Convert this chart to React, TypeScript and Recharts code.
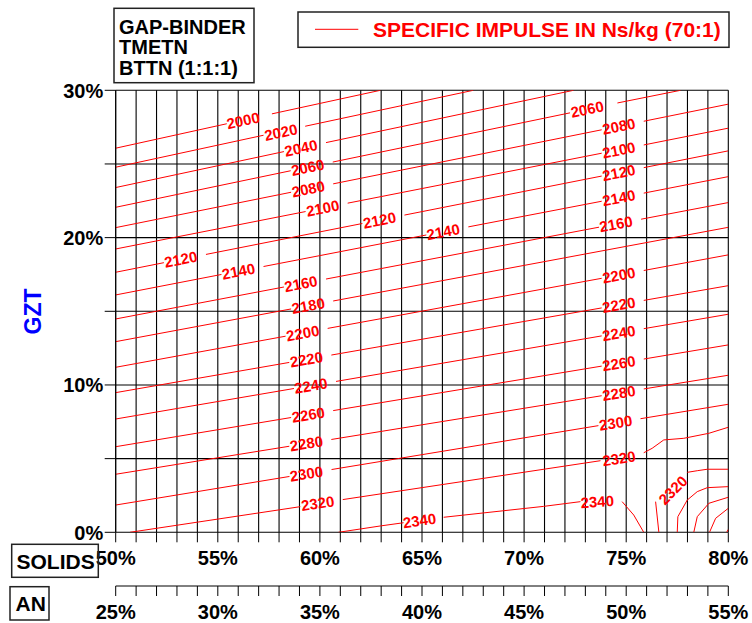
import React from 'react';
import { ComposedChart, Line, XAxis, YAxis, CartesianGrid, Scatter } from 'recharts';

type Seg = number[][];

// x axis: SOLIDS %, second axis: AN %
const solidsTicks = [50, 51, 52, 53, 54, 55, 56, 57, 58, 59, 60, 61, 62, 63, 64, 65, 66, 67, 68, 69, 70, 71, 72, 73, 74, 75, 76, 77, 78, 79, 80];
const anTicks = [25, 26, 27, 28, 29, 30, 31, 32, 33, 34, 35, 36, 37, 38, 39, 40, 41, 42, 43, 44, 45, 46, 47, 48, 49, 50, 51, 52, 53, 54, 55];
const anRange = [{ a: 25 }, { a: 55 }];
const gztTicks = [0, 5, 10, 15, 20, 25, 30];

// contour lines of specific impulse (Ns/kg): visible segments, points [solids %, GZT %]
const c2000: Seg[] = [[[50, 26.07], [55.44, 27.73]], [[57.65, 28.4], [62.96, 30]]];
const c2020: Seg[] = [[[50, 24.78], [57.24, 26.95]], [[59.28, 27.56], [67.51, 30]]];
const c2040: Seg[] = [[[50, 23.4], [58.24, 25.84]], [[60.3, 26.45], [72.42, 30]]];
const c2060: Seg[] = [[[50, 22.06], [58.57, 24.54]], [[60.63, 25.13], [72.25, 28.47]], [[74.57, 29.14], [77.66, 30]]];
const c2080: Seg[] = [[[50, 20.68], [58.59, 23.08]], [[60.65, 23.65], [73.8, 27.32]], [[75.86, 27.9], [80, 29.06]]];
const c2100: Seg[] = [[[50, 19.23], [59.3, 21.77]], [[61.36, 22.34], [73.8, 25.73]], [[75.86, 26.29], [80, 27.43]]];
const c2120: Seg[] = [[[50, 17.65], [52.36, 18.3]], [[54.42, 18.86], [62.08, 20.96]], [[64.14, 21.53], [73.8, 24.18]], [[75.86, 24.75], [80, 25.89]]];
const c2140: Seg[] = [[[50, 16.11], [55.18, 17.5]], [[57.24, 18.04], [65.21, 20.18]], [[67.27, 20.73], [73.8, 22.47]], [[75.86, 23.02], [80, 24.14]]];
const c2160: Seg[] = [[[50, 14.48], [58.24, 16.65]], [[60.3, 17.19], [73.67, 20.71]], [[75.73, 21.25], [80, 22.38]]];
const c2180: Seg[] = [[[50, 12.94], [58.59, 15.16]], [[60.65, 15.7], [80, 20.7]]];
const c2200: Seg[] = [[[50, 11.2], [58.32, 13.31]], [[60.38, 13.84], [73.8, 17.24]], [[75.86, 17.77], [80, 18.83]]];
const c2220: Seg[] = [[[50, 9.48], [58.5, 11.53]], [[60.56, 12.03], [73.8, 15.23]], [[75.86, 15.74], [80, 16.74]]];
const c2240: Seg[] = [[[50, 7.69], [58.73, 9.76]], [[60.79, 10.24], [73.8, 13.33]], [[75.86, 13.82], [80, 14.8]]];
const c2260: Seg[] = [[[50, 5.81], [58.59, 7.79]], [[60.65, 8.26], [73.8, 11.28]], [[75.86, 11.76], [80, 12.72]]];
const c2280: Seg[] = [[[50, 3.94], [58.5, 5.84]], [[60.56, 6.3], [73.8, 9.27]], [[75.86, 9.73], [80, 10.66]]];
const c2300: Seg[] = [[[50, 1.85], [58.51, 3.79]], [[60.57, 4.26], [73.64, 7.24]], [[75.7, 7.71], [80, 8.69]]];
const c2320a: Seg[] = [[[50.7, 0], [59.04, 1.74]], [[61.12, 2.22], [73.74, 4.86]], [[75.86, 5.4], [76.27, 5.7], [76.84, 6.27], [77.82, 6.38], [79.05, 6.72], [80, 7.13]]];
const c2340: Seg[] = [[[60.91, 0], [62.96, 0.43], [64.1, 0.65]], [[66.06, 1.02], [70.96, 1.76], [72.76, 2.08]], [[74.8, 2.08], [75.37, 1.17], [75.86, 0]]];
const c2320b: Seg[] = [[[76.6, 0], [76.44, 2.08]], [[77.99, 4.07], [78.48, 4.18], [78.97, 4.28], [80, 4.28]]];
const c2300b: Seg[] = [[[77.5, 0], [77.53, 1.06], [77.99, 2.19], [78.48, 2.76], [78.97, 3.03], [80, 3.1]]];
const c2280b: Seg[] = [[[78.31, 0], [78.48, 1.06], [79.05, 1.97], [80, 2.38]]];
const c2260b: Seg[] = [[[79.08, 0], [79.38, 0.95], [80, 1.63]]];
const c2240b: Seg[] = [[[79.92, 0], [80, 0.2]]];

const contours: Seg[][] = [c2000, c2020, c2040, c2060, c2080, c2100, c2120, c2140, c2160, c2180, c2200, c2220, c2240, c2260, c2280, c2300, c2320a, c2340, c2320b, c2300b, c2280b, c2260b, c2240b];

// contour labels: text, solids %, GZT %, angle
const contourLabels = [
  { t: '2000', s: 56.24, g: 27.95, a: -12.4 },
  { t: '2020', s: 58.09, g: 27.15, a: -12.2 },
  { t: '2040', s: 59.07, g: 26.08, a: -12.1 },
  { t: '2060', s: 59.4, g: 24.77, a: -11.7 },
  { t: '2060', s: 73.09, g: 28.72, a: -11.7 },
  { t: '2080', s: 59.43, g: 23.31, a: -11.4 },
  { t: '2080', s: 74.64, g: 27.56, a: -11.4 },
  { t: '2100', s: 60.14, g: 22.0, a: -11.2 },
  { t: '2100', s: 74.64, g: 25.95, a: -11.2 },
  { t: '2120', s: 53.19, g: 18.53, a: -11.2 },
  { t: '2120', s: 62.92, g: 21.19, a: -11.2 },
  { t: '2120', s: 74.64, g: 24.41, a: -11.2 },
  { t: '2140', s: 56.01, g: 17.72, a: -10.9 },
  { t: '2140', s: 66.04, g: 20.4, a: -10.9 },
  { t: '2140', s: 74.64, g: 22.7, a: -10.9 },
  { t: '2160', s: 59.07, g: 16.87, a: -10.8 },
  { t: '2160', s: 74.5, g: 20.93, a: -10.8 },
  { t: '2180', s: 59.43, g: 15.38, a: -10.6 },
  { t: '2200', s: 59.16, g: 13.52, a: -10.4 },
  { t: '2200', s: 74.64, g: 17.45, a: -10.4 },
  { t: '2220', s: 59.34, g: 11.74, a: -9.9 },
  { t: '2220', s: 74.64, g: 15.44, a: -9.9 },
  { t: '2240', s: 59.56, g: 9.95, a: -9.7 },
  { t: '2240', s: 74.64, g: 13.52, a: -9.7 },
  { t: '2260', s: 59.43, g: 7.98, a: -9.4 },
  { t: '2260', s: 74.64, g: 11.47, a: -9.4 },
  { t: '2280', s: 59.34, g: 6.03, a: -9.2 },
  { t: '2280', s: 74.64, g: 9.45, a: -9.2 },
  { t: '2300', s: 59.34, g: 3.98, a: -9.3 },
  { t: '2300', s: 74.48, g: 7.43, a: -9.3 },
  { t: '2320', s: 59.89, g: 1.97, a: -8.5 },
  { t: '2320', s: 74.64, g: 5.02, a: -8.5 },
  { t: '2340', s: 64.88, g: 0.8, a: -8 },
  { t: '2340', s: 73.58, g: 2.08, a: -4 },
  { t: '2320', s: 77.29, g: 2.87, a: -45 },
];

const FONT = '"Liberation Sans", Arial, Helvetica, sans-serif';
const RED = '#ff0000';

const toData = (segs: Seg[]) => {
  const out: { s: number; g: number | null }[] = [];
  segs.forEach((seg, i) => {
    if (i > 0) out.push({ s: seg[0][0], g: null });
    seg.forEach((p) => out.push({ s: p[0], g: p[1] }));
  });
  return out;
};

const LabelShape = (props: any) => {
  const { cx, cy, payload } = props;
  if (cx == null || cy == null) return <g />;
  return (
    <text
      x={cx}
      y={cy}
      dy="0.36em"
      textAnchor="middle"
      transform={`rotate(${payload.a}, ${cx}, ${cy})`}
      fill={RED}
      fontFamily={FONT}
      fontWeight="bold"
      fontSize={15}
    >
      {payload.t}
    </text>
  );
};

const YTick = (props: any) => {
  const { x, y, payload } = props;
  if (payload.value % 10 !== 0) return <g />;
  return (
    <text x={x} y={y} dy="0.36em" textAnchor="end" fill="#000" fontFamily={FONT} fontWeight="bold" fontSize={20}>
      {`${payload.value}%`}
    </text>
  );
};

const XTick = (props: any) => {
  const { x, y, payload } = props;
  if (payload.value % 5 !== 0) return <g />;
  return (
    <text x={x} y={y + 23} textAnchor="middle" fill="#000" fontFamily={FONT} fontWeight="bold" fontSize={20}>
      {`${payload.value}%`}
    </text>
  );
};

export default function App() {
  return (
    <div style={{ position: 'absolute', left: 0, top: 0, width: 752, height: 623, background: '#fff' }}>
      <ComposedChart
        width={752}
        height={623}
        margin={{ top: 90.3, right: 23.7, bottom: 0, left: 0 }}
        style={{ position: 'absolute', left: 0, top: 0 }}
      >
        <CartesianGrid xAxisId={0} yAxisId={0} stroke="#000" strokeWidth={1.1} />
        <XAxis
          xAxisId={0}
          dataKey="s"
          type="number"
          domain={[50, 80]}
          ticks={solidsTicks}
          interval={0}
          allowDataOverflow
          height={53.7}
          axisLine={false}
          tickLine={{ stroke: '#000' }}
          tickSize={10}
          tickMargin={0}
          tick={<XTick />}
        />
        <XAxis
          xAxisId={1}
          dataKey="a"
          type="number"
          domain={[25, 55]}
          ticks={anTicks}
          interval={0}
          allowDataOverflow
          height={37}
          axisLine={{ stroke: '#000' }}
          tickLine={{ stroke: '#000' }}
          tickSize={10}
          tickMargin={0}
          tick={<XTick />}
        />
        <YAxis
          yAxisId={0}
          type="number"
          domain={[0, 30]}
          ticks={gztTicks}
          interval={0}
          allowDataOverflow
          width={115.7}
          axisLine={{ stroke: '#000' }}
          tickLine={{ stroke: '#000' }}
          tickSize={11}
          tickMargin={1.5}
          tick={<YTick />}
        />
        <Line
          xAxisId={1}
          yAxisId={0}
          data={anRange}
          dataKey="none"
          stroke="none"
          dot={false}
          activeDot={false}
          isAnimationActive={false}
        />
        {contours.map((segs, i) => (
          <Line
            key={i}
            xAxisId={0}
            yAxisId={0}
            data={toData(segs)}
            dataKey="g"
            type="linear"
            stroke={RED}
            strokeWidth={1}
            dot={false}
            activeDot={false}
            connectNulls={false}
            isAnimationActive={false}
          />
        ))}
        <Scatter
          xAxisId={0}
          yAxisId={0}
          data={contourLabels}
          dataKey="g"
          shape={<LabelShape />}
          isAnimationActive={false}
        />
      </ComposedChart>
      <svg width={752} height={623} style={{ position: 'absolute', left: 0, top: 0, pointerEvents: 'none' }}>
        <g fontFamily={FONT} fontWeight="bold">
          <rect x={114} y={8.3} width={140} height={74.4} fill="none" stroke="#222" strokeWidth={1.5} />
          <text x={119} y={33.5} fontSize={20} fill="#000">GAP-BINDER</text>
          <text x={119} y={54} fontSize={20} fill="#000">TMETN</text>
          <text x={119} y={74.5} fontSize={20} fill="#000">BTTN (1:1:1)</text>

          <rect x={298} y={12} width={431} height={35.3} fill="#fff" stroke="#222" strokeWidth={1.5} />
          <line x1={315} y1={29.3} x2={358.3} y2={29.3} stroke={RED} strokeWidth={1} />
          <text x={373} y={37} fontSize={21} fill={RED}>SPECIFIC IMPULSE IN Ns/kg (70:1)</text>

          <text
            x={32.5}
            y={311.5}
            dy="0.36em"
            textAnchor="middle"
            transform="rotate(-90, 32.5, 311.5)"
            fontSize={23}
            fill="#0000ff"
          >
            GZT
          </text>

          <rect x={11.7} y={544.3} width={86.6} height={33} fill="none" stroke="#222" strokeWidth={1.5} />
          <text x={16.5} y={569} fontSize={21} fill="#000">SOLIDS</text>

          <rect x={10} y={586.7} width={39} height={33.3} fill="none" stroke="#222" strokeWidth={1.5} />
          <text x={15.5} y={611} fontSize={21} fill="#000">AN</text>
        </g>
      </svg>
    </div>
  );
}
